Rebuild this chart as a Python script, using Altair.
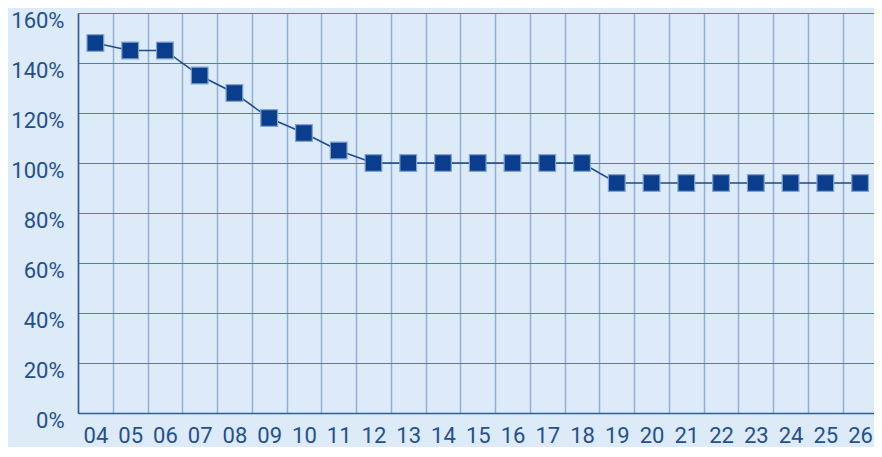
import json
import altair as alt
import pandas as pd

years = ["04", "05", "06", "07", "08", "09", "10", "11", "12", "13", "14", "15",
         "16", "17", "18", "19", "20", "21", "22", "23", "24", "25", "26"]
values = [148, 145, 145, 135, 128, 118, 112, 105, 100, 100, 100, 100,
          100, 100, 100, 92, 92, 92, 92, 92, 92, 92, 92]
y_ticks = [0, 20, 40, 60, 80, 100, 120, 140, 160]

n = len(years)
df = pd.DataFrame({"idx": [i + 0.5 for i in range(n)], "year": years, "value": values})

W, H = 796, 400
x_max = n - 0.1  # the last band is cut by the right edge, as in the reference
band = W / x_max
label_color = "#24508e"
font = "Roboto"

x_enc = alt.X(
    "idx:Q",
    scale=alt.Scale(domain=[0, x_max], nice=False, zero=False),
    axis=alt.Axis(
        values=list(range(n)),
        labelExpr=json.dumps(years) + "[datum.value] || ''",
        labelOffset=band / 2,
        labelFlush=False,
        labelOverlap=False,
        labelAlign="center",
        labelPadding=12,
        ticks=False,
        grid=True,
        gridColor="#92b0d8",
        gridWidth=1.5,
        domainColor="#2e5c9c",
        domainWidth=1.5,
        title=None,
    ),
)
y_enc = alt.Y(
    "value:Q",
    scale=alt.Scale(domain=[0, 160], nice=False),
    axis=alt.Axis(
        values=y_ticks,
        labelExpr="datum.value + '%'",
        labelPadding=14,
        labelBaseline="middle",
        labelOffset=7,
        ticks=False,
        grid=True,
        gridColor="#4f7db8",
        gridWidth=1.2,
        domainColor="#2e5c9c",
        domainWidth=1.5,
        title=None,
    ),
)

base = alt.Chart(df).encode(x=x_enc, y=y_enc)
line = base.mark_line(color="#1b4a8e", strokeWidth=1.5)
pts = base.mark_square(fill="#0a3e8c", stroke="#7ea3d6", strokeWidth=1.2, size=280, opacity=1)

chart = (
    alt.layer(line, pts)
    .properties(
        width=W,
        height=H,
        autosize=alt.AutoSizeParams(type="none"),
        padding={"left": 70, "top": 5, "right": 0, "bottom": 34},
        background="#ddeaf7",
    )
    .configure_view(stroke=None)
    .configure_axis(
        labelFont=font,
        labelFontSize=22,
        labelColor=label_color,
    )
)

chart.save("out.html", embed_options={"renderer": "svg", "actions": False})
